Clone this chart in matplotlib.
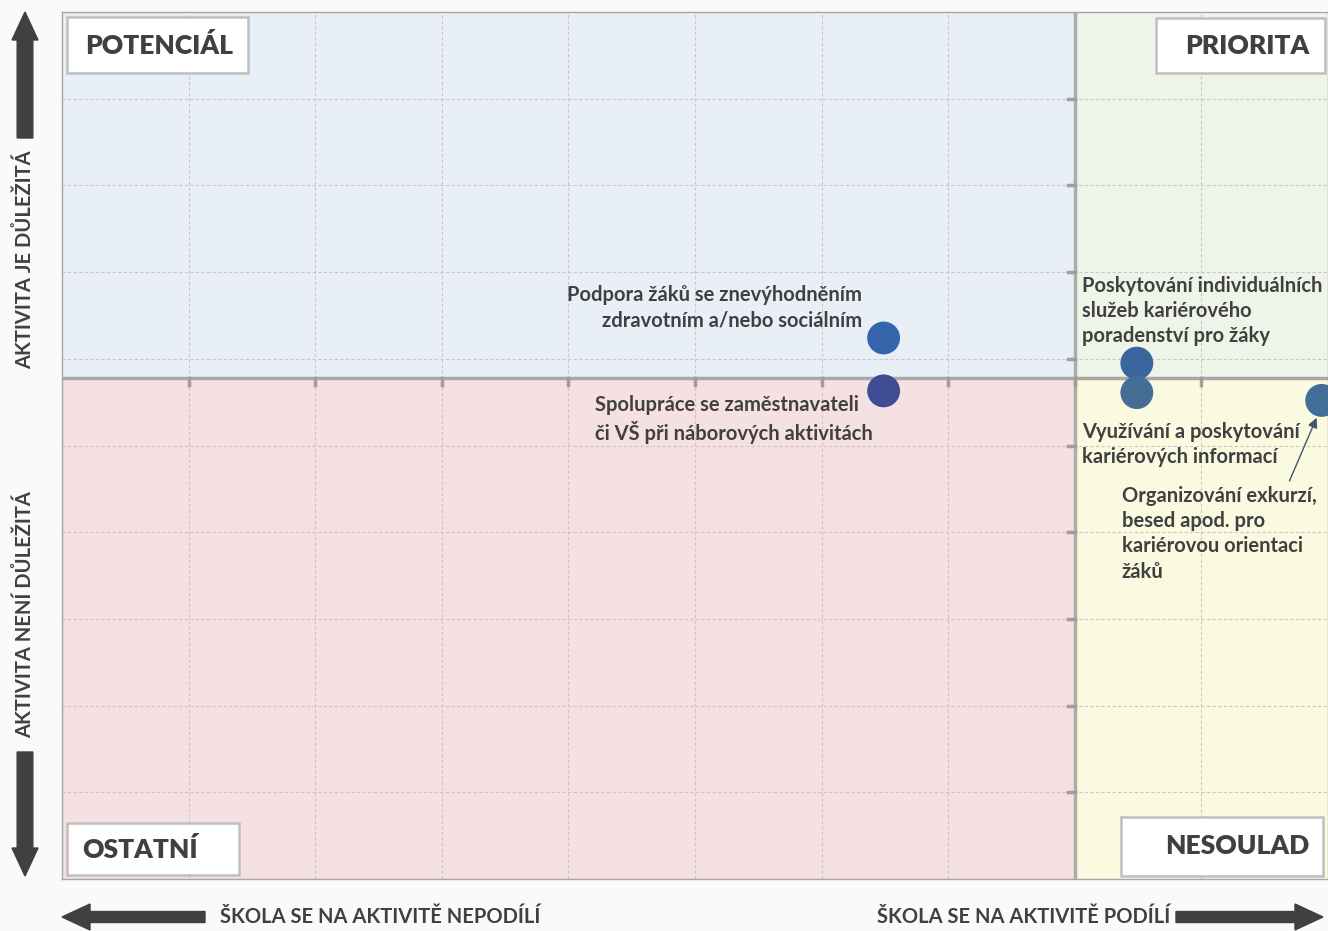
import matplotlib
matplotlib.use("Agg")
import matplotlib.pyplot as plt
from matplotlib.patches import Rectangle, FancyArrow

plt.rcParams["font.family"] = ["Lato", "DejaVu Sans"]

# activity positions (participation, importance)
labels = [
    "Podpora žáků se znevýhodněním\nzdravotním a/nebo sociálním",
    "Spolupráce se zaměstnavateli\nči VŠ při náborových aktivitách",
    "Poskytování individuálních\nslužeb kariérového\nporadenství pro žáky",
    "Využívání a poskytování\nkariérových informací",
    "Organizování exkurzí,\nbesed apod. pro\nkariérovou orientaci\nžáků",
]
x_vals = [6.49, 6.49, 8.49, 8.49, 9.95]
y_vals = [6.24, 5.63, 5.95, 5.61, 5.52]
colors = ["#3565AD", "#3F4C94", "#3A66A0", "#466E95", "#426E9A"]

x_split = 8.0
y_split = 5.78
x_max, y_max = 10, 10

quad_names = ["POTENCIÁL", "PRIORITA", "OSTATNÍ", "NESOULAD"]

TXT = "#404040"

fig = plt.figure(figsize=(13.28, 9.31), dpi=100, facecolor="#FAFAFA")
ax = fig.add_axes([62 / 1328, 1 - 879 / 931, 1 - 62 / 1328, (879 - 12) / 931])
ax.set_xlim(0, x_max)
ax.set_ylim(0, y_max)

# quadrant backgrounds
ax.add_patch(Rectangle((0, y_split), x_split, y_max - y_split, fc="#E9EFF7", ec="none", zorder=0))
ax.add_patch(Rectangle((x_split, y_split), x_max - x_split, y_max - y_split, fc="#EFF4E9", ec="none", zorder=0))
ax.add_patch(Rectangle((0, 0), x_split, y_split, fc="#F5E0E2", ec="none", zorder=0))
ax.add_patch(Rectangle((x_split, 0), x_max - x_split, y_split, fc="#FAFAE1", ec="none", zorder=0))

# grid
for gx in range(1, x_max):
    ax.axvline(gx, color="#C8C8C8", lw=0.8, ls=(0, (3, 2)), zorder=1)
for gy in range(1, y_max):
    ax.axhline(gy, color="#C8C8C8", lw=0.8, ls=(0, (3, 2)), zorder=1)

# dividers with ticks
ax.axvline(x_split, color="#A8AFA8", lw=2.5, zorder=2)
ax.axhline(y_split, color="#A8A8A8", lw=2.5, zorder=2)
for gx in range(1, x_max):
    ax.plot([gx, gx], [y_split, y_split - 0.08], color="#A89A9A", lw=2.5, zorder=2)
for gy in range(1, y_max):
    ax.plot([x_split, x_split - 0.055], [gy, gy], color="#A89A9A", lw=2.5, zorder=2)

ax.set_xticks([])
ax.set_yticks([])
for s in ax.spines.values():
    s.set_color("#A6A6A6")
    s.set_linewidth(1)

ax.scatter(x_vals, y_vals, s=560, c=colors, zorder=5, clip_on=False, linewidths=0)

fs = 14.5
tk = dict(fontsize=fs, color=TXT, fontweight="bold", linespacing=1.32, zorder=6)
ax.text(x_vals[0] - 0.17, y_vals[0] + 0.35, labels[0], ha="right", va="center", **tk)
ax.text(x_vals[1] - 2.28, y_vals[1] - 0.33, labels[1], ha="left", va="center", **tk)
ax.text(x_split + 0.06, y_vals[2] + 0.6, labels[2], ha="left", va="center", **tk)
ax.text(x_split + 0.06, y_vals[3] - 0.6, labels[3], ha="left", va="center", **tk)
ax.annotate(labels[4], xy=(x_vals[4] - 0.04, y_vals[4] - 0.2), xytext=(8.37, 3.98),
            ha="left", va="center", arrowprops=dict(arrowstyle="-|>", color="#44546A", lw=1,
                                                     shrinkA=2, shrinkB=0,
                                                     relpos=(0.85, 1.0)),
            **tk)

# quadrant label boxes (pixel boxes in figure coords)
W, H = 1328, 931
boxes = [
    ((67, 17, 248, 73), "left", 85),
    ((1156, 18, 1325, 73), "right", 1309),
    ((67, 823, 239, 875), "left", 82),
    ((1121, 817, 1323, 876), "right", 1309),
]
for (x0, y0, x1, y1), ha, tx in boxes:
    fig.patches.append(Rectangle((x0 / W, 1 - y1 / H), (x1 - x0) / W, (y1 - y0) / H,
                                 transform=fig.transFigure, fc="white", ec="#BFBFBF",
                                 lw=1.8, zorder=10))
for ((x0, y0, x1, y1), ha, tx), name in zip(boxes, quad_names):
    fig.text(tx / W, 1 - (y0 + y1) / 2 / H, name, ha=ha, va="center",
             fontsize=19, fontweight="heavy", color=TXT, zorder=11)

# axis arrows
arrow_kw = dict(transform=fig.transFigure, color="#404040", length_includes_head=True)
fig.patches.append(FancyArrow(25 / W, 1 - 138 / H, 0, (138 - 12) / H, width=11 / H,
                              head_width=26 / W, head_length=28 / H, **arrow_kw))
fig.patches.append(FancyArrow(25 / W, 1 - 752 / H, 0, -(876 - 752) / H, width=11 / H,
                              head_width=26 / W, head_length=28 / H, **arrow_kw))
fig.patches.append(FancyArrow(205 / W, 1 - 917 / H, -(205 - 62) / W, 0, width=11 / H,
                              head_width=26 / H, head_length=28 / W, **arrow_kw))
fig.patches.append(FancyArrow(1176 / W, 1 - 917 / H, (1323 - 1176) / W, 0, width=11 / H,
                              head_width=26 / H, head_length=28 / W, **arrow_kw))

ak = dict(fontsize=14.5, color=TXT, fontweight="bold")
fig.text(25 / W, 1 - 260 / H, "AKTIVITA JE DŮLEŽITÁ", rotation=90, ha="center", va="center", **ak)
fig.text(25 / W, 1 - 615 / H, "AKTIVITA NENÍ DŮLEŽITÁ", rotation=90, ha="center", va="center", **ak)
fig.text(220 / W, 1 - 917 / H, "ŠKOLA SE NA AKTIVITĚ NEPODÍLÍ", ha="left", va="center", **ak)
fig.text(1170 / W, 1 - 917 / H, "ŠKOLA SE NA AKTIVITĚ PODÍLÍ", ha="right", va="center", **ak)

fig.savefig("out.png", dpi=100, facecolor=fig.get_facecolor())
